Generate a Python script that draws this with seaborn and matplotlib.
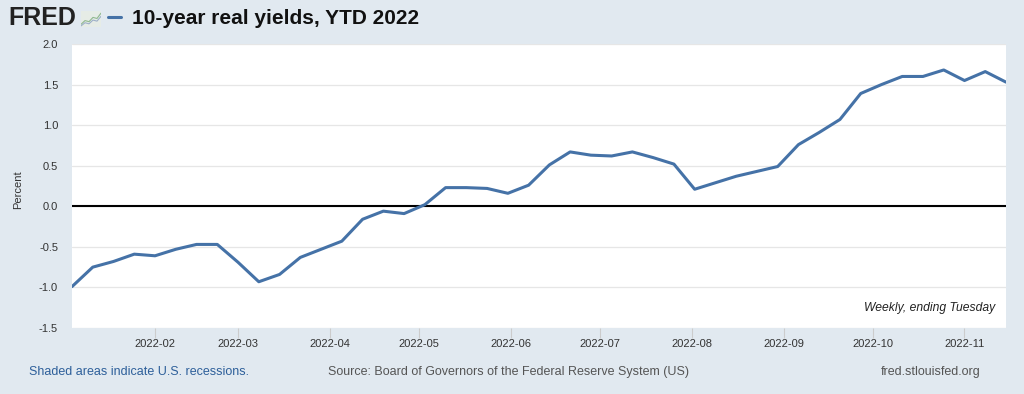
import matplotlib
matplotlib.use("Agg")
import matplotlib.pyplot as plt
import matplotlib.dates as mdates
from matplotlib.lines import Line2D
import seaborn as sns
import pandas as pd
import numpy as np

# ---- data ----
dates = pd.date_range("2022-01-04", "2022-11-15", freq="7D")
yields = [-0.99, -0.75, -0.68, -0.59, -0.61, -0.53, -0.47, -0.47,
          -0.69, -0.93, -0.84, -0.63, -0.53, -0.43, -0.16, -0.06,
          -0.09, 0.02, 0.23, 0.23, 0.22, 0.16, 0.26, 0.51,
          0.67, 0.63, 0.62, 0.67, 0.60, 0.52, 0.21, 0.29,
          0.37, 0.43, 0.49, 0.76, 0.91, 1.07, 1.39, 1.50,
          1.60, 1.60, 1.68, 1.55, 1.66, 1.53]
yticks = [-1.5, -1.0, -0.5, 0.0, 0.5, 1.0, 1.5, 2.0]
month_ticks = pd.date_range("2022-02-01", "2022-11-01", freq="MS")

df = pd.DataFrame({"date": dates, "value": yields})

sns.set_theme(style="white")
plt.rcParams['font.family'] = ['Liberation Sans', 'DejaVu Sans']

BG = "#e1e9f0"
LINE = "#4572a7"
W, H = 1024, 394
fig = plt.figure(figsize=(10.24, 3.94), dpi=100, facecolor=BG)
ax = fig.add_axes([72/W, 1-328/H, (1006-72)/W, (328-44)/H])
ax.set_facecolor("white")

for yv in yticks:
    ax.axhline(yv, color="#e6e6e6", lw=0.9, zorder=0)
ax.axhline(0, color="black", lw=1.5, zorder=1)

sns.lineplot(data=df, x="date", y="value", ax=ax, color=LINE, lw=2.2, zorder=3)

ax.set_xlim(dates[0], dates[-1])
ax.set_ylim(-1.5, 2.0)
ax.set_yticks(yticks)
ax.set_yticklabels([f"{v:.1f}" for v in yticks])
ax.set_xticks(month_ticks)
ax.xaxis.set_major_formatter(mdates.DateFormatter("%Y-%m"))
ax.tick_params(axis="x", length=7, color="#cccccc", width=0.8, labelsize=8,
               labelcolor="#333333", pad=1, direction="out", bottom=True)
ax.tick_params(axis="y", length=0, labelsize=8, labelcolor="#333333", pad=10)
ax.set_xlabel("")
ax.set_ylabel("Percent", fontsize=8, color="#333333")
ax.yaxis.set_label_coords(-0.052, 0.486)
for s in ax.spines.values():
    s.set_visible(False)

ax.text(0.988, 0.05, "Weekly, ending Tuesday", transform=ax.transAxes,
        ha="right", va="bottom", fontsize=8.7, style="italic", color="#222222")

# header
fig.text(8/W, 1-18/H, "FRED", fontsize=18, fontweight="heavy", color="#222222",
         va="center", ha="left")
# small logo icon
icon = fig.add_axes([81/W, 1-27/H, 20/W, 16/H])
icon.set_facecolor("#e6ece6")
icon.plot([0, 1, 2, 3, 4, 5], [0.5, 1.2, 1.0, 1.8, 1.6, 2.6], color="#8fb88f", lw=0.8)
icon.plot([0, 1, 2, 3, 4, 5], [0.2, 0.8, 0.6, 1.3, 1.1, 2.0], color="#9db0c8", lw=0.8)
icon.set_xlim(0, 5)
icon.set_ylim(0, 3)
icon.set_xticks([])
icon.set_yticks([])
for s in icon.spines.values():
    s.set_visible(False)
fig.add_artist(Line2D([108/W, 121/W], [1-17/H, 1-17/H], color=LINE, lw=2.2,
                      transform=fig.transFigure))
fig.text(132/W, 1-19/H, "10-year real yields, YTD 2022", fontsize=15,
         fontweight="bold", color="#111111", va="center", ha="left")

# footer
fig.text(29/W, 1-372/H, "Shaded areas indicate U.S. recessions.", fontsize=9,
         color="#2d5f9a", va="center", ha="left")
fig.text(328/W, 1-372/H,
         "Source: Board of Governors of the Federal Reserve System (US)", fontsize=9,
         color="#555555", va="center", ha="left")
fig.text(981/W, 1-372/H, "fred.stlouisfed.org", fontsize=9,
         color="#555555", va="center", ha="right")

fig.savefig("out.png", dpi=100, facecolor=BG)
